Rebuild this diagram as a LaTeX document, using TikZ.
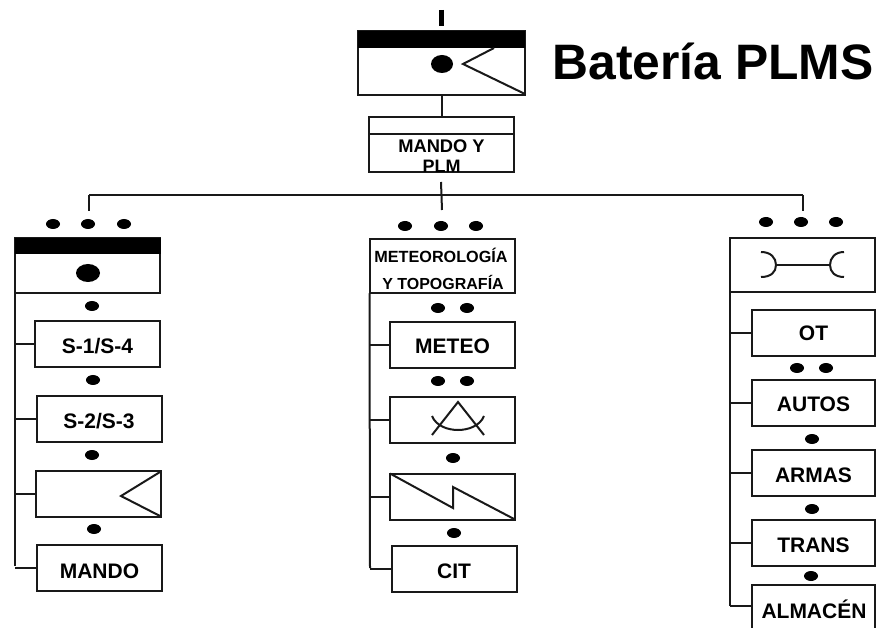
\documentclass[tikz,border=0pt]{standalone}
\usepackage{fontspec}
\setmainfont{Liberation Sans}
\tikzset{
  x=1pt,y=-1pt,
  lin/.style={line width=2pt,draw=black!90},
  boxn/.style={lin,rectangle,inner sep=0pt,outer sep=0pt,font=\fontsize{21}{22}\selectfont\bfseries,text=black},
  wideb/.style={boxn,minimum width=125pt,minimum height=46pt},
  headb/.style={boxn,minimum width=145pt,minimum height=54.5pt},
  txt/.style={inner sep=0pt,outer sep=0pt,font=\fontsize{16.2}{18}\selectfont\bfseries,text=black},
  lowr/.style={text height={15pt+2*#1},text depth=0pt},
}
\newcommand{\pdot}[1]{\fill[black] (#1) ellipse [x radius=7pt,y radius=5pt];}
\begin{document}
\begin{tikzpicture}
\useasboundingbox (0,0) rectangle (876,628);
\clip (0,0) rectangle (876,628);
% title
\node[inner sep=0pt,anchor=center,font=\fontsize{49.8}{50}\selectfont\bfseries,text=black] (title) at (713,61) {Batería PLMS};
% top unit
\coordinate (tick1) at (441,10);
\coordinate (tick2) at (441,26);
\draw[line width=5pt,black] (tick1) -- (tick2);
\node[boxn,minimum width=167pt,minimum height=64pt] (bat) at (441.5,63) {};
\fill[black] (358,31) rectangle (525,48);
\fill[black] (442,64) ellipse [x radius=11pt,y radius=9pt];
\draw[lin] (494,48) -- (463,64) -- (525,94);
\node[boxn,minimum width=145pt,minimum height=55pt] (mandoplm) at (441.5,144.5) {};
\draw[lin] (mandoplm.west |- 0,134) -- (mandoplm.east |- 0,134);
\node[txt,font=\fontsize{18.3}{20}\selectfont\bfseries] (mt1) at (441.5,146) {MANDO Y};
\node[txt,font=\fontsize{18}{20}\selectfont\bfseries] (mt2) at (441.5,166) {PLM};
\draw[lin] (bat.south) -- (mandoplm.north);
% bus
\coordinate (busl) at (89,195);
\coordinate (busm) at (442,195);
\coordinate (busr) at (803,195);
\coordinate (stem) at (441,182);
\coordinate (dropl) at (89,211);
\coordinate (dropm) at (442,210);
\coordinate (dropr) at (803,211);
\draw[lin] (busl) -- (busr);
\draw[lin] (stem) -- (dropm);
\draw[lin] (busl) -- (dropl);
\draw[lin] (busr) -- (dropr);
% left column
\pdot{53,224}\pdot{88,224}\pdot{124,224}
\node[headb] (lh) at (87.5,265.5) {};
\fill[black] (15,238) rectangle (161,254);
\fill[black] (88,273) ellipse [x radius=12pt,y radius=9pt];
\pdot{92,306}
\node[wideb,lowr=2pt] (s14) at (97.5,344) {S-1/S-4};
\pdot{93,380}
\node[wideb,lowr=2pt] (s23) at (99,419) {S-2/S-3};
\pdot{92,455}
\node[wideb] (ltri) at (98.5,493.5) {};
\draw[lin] (160,472) -- (121,496) -- (160,516);
\pdot{94,529}
\node[wideb,lowr=3.5pt] (lmando) at (99.5,567.5) {MANDO};
\coordinate (ltrunk) at (15,566);
\draw[lin] (lh.south west) -- (ltrunk);
\draw[lin] (s14.west) -- (s14.west -| ltrunk);
\draw[lin] (s23.west) -- (s23.west -| ltrunk);
\draw[lin] (ltri.west) -- (ltri.west -| ltrunk);
\draw[lin] (lmando.west) -- (lmando.west -| ltrunk);
% middle column
\pdot{405,226}\pdot{441,226}\pdot{476,226}
\node[headb] (mh) at (442,266) {};
\node[txt] (mh1) at (441,255.5) {METEOROLOGÍA};
\node[txt,font=\fontsize{16}{18}\selectfont\bfseries] (mh2) at (443,282.5) {Y TOPOGRAFÍA};
\pdot{438,308}\pdot{467,308}
\node[wideb,lowr=1pt] (meteo) at (452.5,345) {METEO};
\pdot{438,381}\pdot{467,381}
\node[wideb] (radar) at (452.5,420) {};
\draw[lin] (432,435) -- (458,402) -- (484,435);
\draw[lin] (432,416) .. controls (436,426) and (448,430) .. (458,430) .. controls (468,430) and (480,426) .. (484,416);
\pdot{453,458}
\node[wideb] (zig) at (452.5,496.5) {};
\draw[lin] (zig.north west) -- (453,508) -- (453,487) -- (zig.south east);
\pdot{454,533}
\node[wideb,lowr=2.5pt] (cit) at (454,568.5) {CIT};
\coordinate (mtrunk) at (370,568);
\draw[lin] (mh.south west) -- (mtrunk);
\draw[lin] (meteo.west) -- (meteo.west -| mtrunk);
\draw[lin] (radar.west) -- (radar.west -| mtrunk);
\draw[lin] (zig.west) -- (zig.west -| mtrunk);
\draw[lin] (cit.west) -- (cit.west -| mtrunk);
% right column
\pdot{766,222}\pdot{801,222}\pdot{836,222}
\node[headb] (rh) at (802.5,265) {};
\draw[lin] (761,252) .. controls (771,252) and (776,258) .. (776,265) .. controls (776,272) and (771,277) .. (761,277);
\draw[lin] (844,252) .. controls (835,252) and (830,258) .. (830,265) .. controls (830,272) and (835,277) .. (844,277);
\coordinate (bl) at (776,265);
\coordinate (br) at (830,265);
\draw[lin] (bl) -- (br);
\node[wideb,minimum width=123pt] (ot) at (813.5,333) {OT};
\pdot{797,368}\pdot{826,368}
\node[wideb,minimum width=123pt,lowr=1pt] (autos) at (813.5,403) {AUTOS};
\pdot{812,439}
\node[wideb,minimum width=123pt,lowr=2pt] (armas) at (813.5,473) {ARMAS};
\pdot{812,509}
\node[wideb,minimum width=123pt,lowr=2pt] (trans) at (813.5,543) {TRANS};
\pdot{811,576}
\node[boxn,minimum width=123pt,minimum height=60pt] (alm) at (813.5,615) {};
\node[txt,font=\fontsize{21}{22}\selectfont\bfseries] (almt) at (814,609) {ALMACÉN};
\coordinate (rtrunk) at (730,606);
\draw[lin] (rh.south west) -- (rtrunk);
\draw[lin] (ot.west) -- (ot.west -| rtrunk);
\draw[lin] (autos.west) -- (autos.west -| rtrunk);
\draw[lin] (armas.west) -- (armas.west -| rtrunk);
\draw[lin] (trans.west) -- (trans.west -| rtrunk);
\draw[lin] (alm.west |- rtrunk) -- (rtrunk);
\end{tikzpicture}
\end{document}
